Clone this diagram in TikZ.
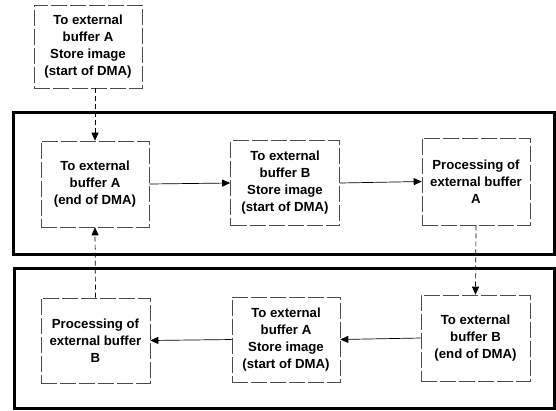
\documentclass[tikz,border=0pt]{standalone}
\usepackage{fontspec}
\setmainfont{Liberation Sans}
\usetikzlibrary{arrows.meta}
\begin{document}
\begin{tikzpicture}[x=1bp,y=-1bp,
  stepbox/.style={draw=black!70, line width=0.6bp, dash pattern=on 16bp off 3bp,
    align=center, inner sep=0pt, font=\fontsize{13.2bp}{17bp}\selectfont\bfseries},
  frame/.style={draw=black, line width=3bp},
  flow/.style={line width=0.7bp, -{Triangle[length=8bp,width=7bp]}},
  dflow/.style={line width=0.7bp, dash pattern=on 5bp off 3bp, -{Triangle[length=8bp,width=7bp]}}]
\useasboundingbox (0,0) rectangle (556,410);
% frames
\draw[frame] (13,112) rectangle (554,254);
\draw[frame] (14,268) rectangle (554,408);
% boxes
\node[stepbox, minimum width=108bp, minimum height=83bp] (top) at (88,46.5)
  {To external\\buffer A\\Store image\\(start of DMA)};
\node[stepbox, minimum width=108bp, minimum height=86bp] (a1) at (95,184)
  {To external\\buffer A\\(end of DMA)};
\node[stepbox, minimum width=109bp, minimum height=85bp] (b1) at (285,183)
  {To external\\buffer B\\Store image\\(start of DMA)};
\node[stepbox, minimum width=108bp, minimum height=87bp] (pa) at (476,181.5)
  {Processing of\\external buffer\\A};
\node[stepbox, minimum width=109bp, minimum height=86bp] (eb) at (475.5,338)
  {To external\\buffer B\\(end of DMA)};
\node[stepbox, minimum width=108bp, minimum height=85bp] (sa) at (286,339.5)
  {To external\\buffer A\\Store image\\(start of DMA)};
\node[stepbox, minimum width=109bp, minimum height=85bp] (pb) at (95.5,340.5)
  {Processing of\\external buffer\\B};
% connectors
\draw[dflow] (top.south -| a1.north) -- (a1.north);
\draw[flow] (a1.east) -- (b1.west);
\draw[flow] (b1.east) -- (pa.west);
\draw[dflow] (pa.south) -- (eb.north);
\draw[flow] (eb.west) -- (sa.east);
\draw[flow] (sa.west) -- (pb.east);
\draw[dflow] (pb.north) -- (a1.south);
\end{tikzpicture}
\end{document}
